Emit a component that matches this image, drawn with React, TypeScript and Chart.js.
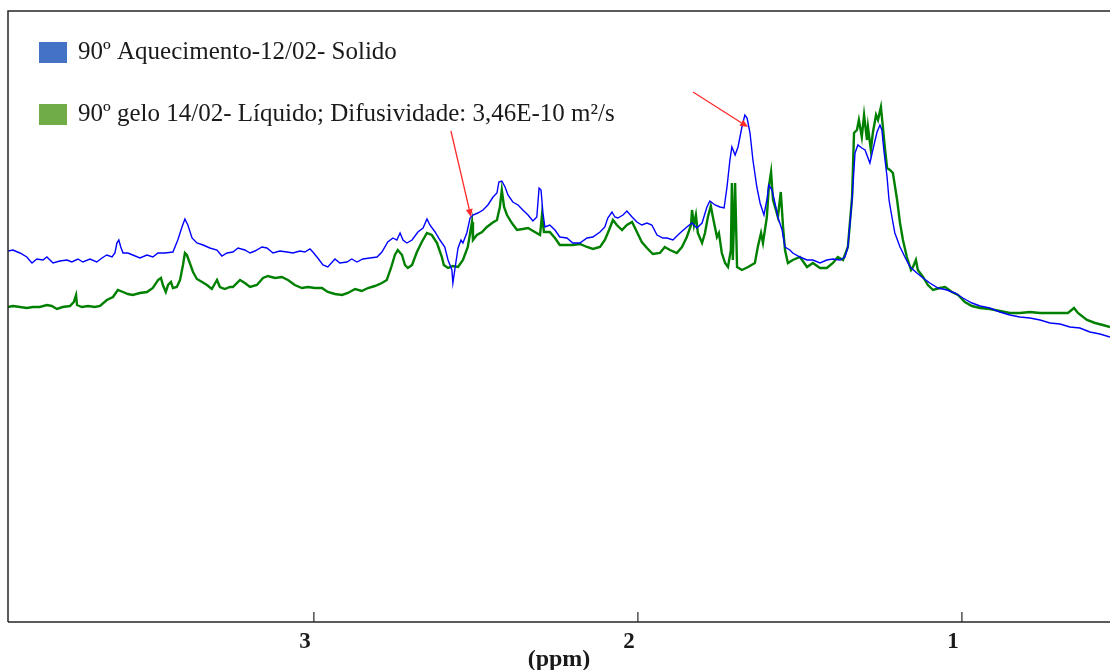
import React, { useEffect, useRef } from "react";
import { Chart, registerables } from "chart.js";

Chart.register(...registerables);

// ---- Data (ppm, intensity in arbitrary units) ----
const SERIES_LABELS = [
  "90º Aquecimento-12/02- Solido",
  "90º gelo 14/02- Líquido; Difusividade: 3,46E-10 m²/s",
];
const LINE_COLORS = ["#0000FF", "#008000"];
const LEGEND_COLORS = ["#4472C4", "#70AD47"];

const X_TICKS = [3, 2, 1];
const X_TITLE = "(ppm)";
const X_MIN = 0.543;
const X_MAX = 3.944;
const Y_MIN = 0;
const Y_MAX = 611;

const BLUE_PPM = [
  3.944, 3.929, 3.907, 3.886, 3.87, 3.855, 3.836, 3.824, 3.805, 3.784, 3.762, 3.747, 3.728, 3.713, 3.691, 3.67,
  3.654, 3.639, 3.623, 3.614, 3.608, 3.602, 3.596, 3.589, 3.574, 3.559, 3.537, 3.515, 3.497, 3.481, 3.46, 3.435,
  3.42, 3.407, 3.398, 3.389, 3.376, 3.361, 3.342, 3.321, 3.299, 3.284, 3.268, 3.25, 3.234, 3.213, 3.197, 3.182,
  3.16, 3.145, 3.126, 3.105, 3.083, 3.065, 3.043, 3.028, 3.012, 3.003, 2.988, 2.972, 2.957, 2.935, 2.92, 2.898,
  2.883, 2.867, 2.849, 2.827, 2.805, 2.79, 2.772, 2.756, 2.744, 2.734, 2.725, 2.713, 2.697, 2.679, 2.663, 2.651,
  2.642, 2.626, 2.611, 2.596, 2.586, 2.574, 2.571, 2.562, 2.555, 2.546, 2.54, 2.528, 2.518, 2.509, 2.494, 2.478,
  2.463, 2.447, 2.435, 2.429, 2.42, 2.41, 2.401, 2.386, 2.37, 2.355, 2.339, 2.324, 2.312, 2.305, 2.299, 2.293,
  2.287, 2.272, 2.256, 2.241, 2.219, 2.201, 2.179, 2.157, 2.139, 2.117, 2.102, 2.093, 2.08, 2.071, 2.062, 2.046,
  2.034, 2.018, 2.003, 1.988, 1.972, 1.957, 1.941, 1.923, 1.91, 1.892, 1.87, 1.849, 1.833, 1.818, 1.802, 1.787,
  1.778, 1.762, 1.747, 1.734, 1.725, 1.716, 1.71, 1.7, 1.691, 1.679, 1.67, 1.663, 1.654, 1.645, 1.633, 1.623,
  1.611, 1.602, 1.596, 1.586, 1.577, 1.568, 1.555, 1.546, 1.531, 1.522, 1.5, 1.478, 1.46, 1.438, 1.417, 1.398,
  1.376, 1.361, 1.352, 1.339, 1.33, 1.321, 1.309, 1.299, 1.284, 1.275, 1.262, 1.253, 1.247, 1.241, 1.231, 1.225,
  1.216, 1.207, 1.191, 1.176, 1.16, 1.139, 1.12, 1.099, 1.074, 1.046, 1.022, 0.997, 0.969, 0.944, 0.914, 0.883,
  0.852, 0.821, 0.79, 0.759, 0.728, 0.697, 0.667, 0.636, 0.605, 0.574, 0.543,
];
const BLUE_INT = [
  371, 372, 369, 365, 359, 363, 362, 365, 359, 361, 362, 360, 363, 360, 363, 360,
  364, 367, 365, 369, 379, 382, 375, 369, 369, 367, 364, 367, 365, 369, 369, 370,
  382, 395, 403, 397, 384, 379, 377, 374, 372, 366, 369, 370, 374, 372, 369, 371,
  375, 374, 369, 371, 370, 369, 371, 370, 373, 370, 364, 357, 355, 363, 359, 360,
  363, 360, 363, 364, 365, 370, 380, 384, 382, 389, 382, 379, 382, 390, 394, 403,
  397, 390, 382, 375, 362, 352, 339, 359, 374, 382, 379, 389, 404, 407, 409, 412,
  417, 425, 429, 440, 441, 435, 427, 420, 417, 412, 407, 401, 405, 434, 432, 409,
  395, 397, 392, 385, 384, 379, 379, 384, 385, 390, 395, 404, 410, 405, 404, 407,
  411, 405, 400, 397, 399, 397, 387, 384, 384, 382, 389, 395, 399, 394, 399, 415,
  421, 417, 415, 414, 435, 462, 475, 467, 475, 495, 507, 504, 489, 462, 435, 419,
  407, 422, 437, 432, 419, 405, 392, 375, 372, 369, 365, 362, 362, 359, 362, 363,
  362, 365, 375, 422, 469, 477, 474, 472, 459, 472, 490, 497, 492, 472, 445, 422,
  405, 389, 375, 365, 355, 349, 344, 339, 334, 332, 329, 324, 319, 316, 314, 310,
  307, 305, 304, 302, 299, 298, 295, 294, 290, 288, 285,
];

const GREEN_PPM = [
  3.944, 3.929, 3.907, 3.886, 3.867, 3.846, 3.824, 3.809, 3.793, 3.775, 3.753, 3.741, 3.734, 3.731, 3.716, 3.697,
  3.676, 3.66, 3.639, 3.62, 3.605, 3.589, 3.574, 3.559, 3.537, 3.515, 3.497, 3.481, 3.472, 3.466, 3.457, 3.45,
  3.441, 3.435, 3.423, 3.413, 3.404, 3.398, 3.392, 3.383, 3.373, 3.361, 3.345, 3.33, 3.315, 3.299, 3.29, 3.275,
  3.259, 3.25, 3.228, 3.213, 3.197, 3.176, 3.157, 3.142, 3.12, 3.099, 3.08, 3.059, 3.037, 3.018, 2.997, 2.975,
  2.957, 2.935, 2.913, 2.895, 2.873, 2.852, 2.833, 2.812, 2.79, 2.775, 2.762, 2.75, 2.741, 2.728, 2.719, 2.71,
  2.697, 2.682, 2.667, 2.651, 2.636, 2.62, 2.605, 2.599, 2.586, 2.571, 2.555, 2.54, 2.525, 2.512, 2.509, 2.497,
  2.481, 2.466, 2.45, 2.435, 2.426, 2.42, 2.413, 2.404, 2.389, 2.373, 2.355, 2.339, 2.318, 2.302, 2.296, 2.29,
  2.272, 2.256, 2.241, 2.219, 2.201, 2.179, 2.157, 2.139, 2.117, 2.102, 2.089, 2.077, 2.065, 2.049, 2.034, 2.018,
  2.003, 1.988, 1.972, 1.954, 1.932, 1.917, 1.901, 1.88, 1.864, 1.849, 1.836, 1.833, 1.827, 1.821, 1.815, 1.802,
  1.793, 1.784, 1.775, 1.768, 1.756, 1.75, 1.741, 1.731, 1.722, 1.713, 1.71, 1.707, 1.7, 1.694, 1.679, 1.66,
  1.639, 1.63, 1.62, 1.614, 1.602, 1.596, 1.589, 1.583, 1.574, 1.568, 1.559, 1.552, 1.546, 1.537, 1.522, 1.5,
  1.478, 1.46, 1.438, 1.417, 1.398, 1.383, 1.367, 1.352, 1.339, 1.333, 1.324, 1.318, 1.309, 1.302, 1.293, 1.29,
  1.281, 1.275, 1.265, 1.259, 1.25, 1.244, 1.238, 1.231, 1.222, 1.213, 1.2, 1.191, 1.182, 1.17, 1.157, 1.151,
  1.142, 1.136, 1.12, 1.105, 1.089, 1.068, 1.052, 1.031, 1.012, 0.991, 0.969, 0.944, 0.914, 0.883, 0.852, 0.821,
  0.79, 0.759, 0.728, 0.697, 0.673, 0.654, 0.642, 0.614, 0.589, 0.565, 0.543,
];
const GREEN_INT = [
  315, 316, 315, 314, 315, 315, 317, 316, 313, 315, 316, 320, 327, 317, 315, 316,
  315, 316, 322, 325, 332, 330, 328, 327, 329, 330, 334, 342, 344, 337, 330, 337,
  340, 334, 335, 342, 357, 369, 367, 359, 350, 343, 340, 337, 333, 342, 335, 333,
  335, 335, 342, 339, 335, 337, 344, 346, 344, 345, 342, 337, 334, 335, 334, 334,
  330, 328, 327, 329, 333, 331, 334, 336, 339, 342, 354, 367, 372, 367, 357, 354,
  357, 370, 380, 389, 387, 379, 365, 357, 354, 356, 355, 362, 375, 400, 382, 387,
  390, 395, 399, 402, 415, 432, 415, 407, 399, 392, 393, 394, 390, 387, 407, 390,
  390, 384, 377, 377, 377, 378, 375, 373, 375, 382, 392, 402, 397, 392, 397, 400,
  390, 380, 374, 368, 369, 375, 372, 369, 375, 385, 397, 412, 397, 407, 389, 379,
  389, 405, 416, 404, 385, 389, 369, 359, 355, 372, 439, 362, 439, 355, 352, 355,
  359, 375, 389, 379, 405, 435, 450, 422, 412, 405, 430, 395, 372, 359, 362, 365,
  355, 359, 354, 354, 359, 365, 362, 375, 425, 489, 492, 502, 485, 507, 482, 495,
  472, 489, 507, 502, 515, 495, 475, 454, 452, 449, 422, 399, 382, 365, 352, 355,
  362, 352, 345, 337, 332, 334, 335, 330, 327, 320, 316, 314, 313, 311, 309, 309,
  310, 309, 309, 309, 309, 314, 309, 302, 299, 297, 295,
];

// Annotation arrows: [tailPpm, tailInt, tipPpm, tipInt]
const ARROWS = [
  [2.577, 491, 2.515, 405],
  [1.83, 530, 1.66, 495],
];

const SERIF = "'Liberation Serif', 'Times New Roman', serif";

const overlayPlugin = {
  id: "overlay",
  afterDatasetsDraw(chart: any) {
    const { ctx, chartArea, scales } = chart;
    const { left, top, right, bottom } = chartArea;
    const x = scales.x;
    const y = scales.y;
    ctx.save();
    // frame
    ctx.strokeStyle = "#262626";
    ctx.lineWidth = 1.5;
    ctx.beginPath();
    ctx.moveTo(left, bottom);
    ctx.lineTo(left, top);
    ctx.lineTo(right, top);
    ctx.moveTo(left, bottom);
    ctx.lineTo(right, bottom);
    ctx.stroke();
    // inward tick marks
    ctx.lineWidth = 1.2;
    ctx.beginPath();
    for (const v of X_TICKS) {
      const px = x.getPixelForValue(v);
      ctx.moveTo(px, bottom);
      ctx.lineTo(px, bottom - 10);
    }
    ctx.stroke();
    // arrows
    ctx.strokeStyle = "#FF2A2A";
    ctx.fillStyle = "#FF2A2A";
    ctx.lineWidth = 1.3;
    for (const a of ARROWS) {
      const x1 = x.getPixelForValue(a[0]);
      const y1 = y.getPixelForValue(a[1]);
      const x2 = x.getPixelForValue(a[2]);
      const y2 = y.getPixelForValue(a[3]);
      const ang = Math.atan2(y2 - y1, x2 - x1);
      const hl = 8;
      const hw = 3.5;
      const bx = x2 - hl * Math.cos(ang);
      const by = y2 - hl * Math.sin(ang);
      ctx.beginPath();
      ctx.moveTo(x1, y1);
      ctx.lineTo(bx, by);
      ctx.stroke();
      ctx.beginPath();
      ctx.moveTo(x2, y2);
      ctx.lineTo(bx + hw * Math.sin(ang), by - hw * Math.cos(ang));
      ctx.lineTo(bx - hw * Math.sin(ang), by + hw * Math.cos(ang));
      ctx.closePath();
      ctx.fill();
    }
    // legend
    const rows = [52, 114];
    ctx.font = `25px ${SERIF}`;
    ctx.textBaseline = "alphabetic";
    ctx.textAlign = "left";
    SERIES_LABELS.forEach((label, i) => {
      const cy = rows[i];
      ctx.fillStyle = LEGEND_COLORS[i];
      ctx.fillRect(left + 31, cy - 10, 28, 21);
      ctx.fillStyle = "#1a1a1a";
      ctx.fillText(label, left + 70, cy + 7);
    });
    ctx.restore();
  },
};

export default function App() {
  const ref = useRef<HTMLCanvasElement | null>(null);
  useEffect(() => {
    if (!ref.current) return;
    const mk = (px: number[], iv: number[]) => px.map((p, i) => ({ x: p, y: iv[i] }));
    const chart = new Chart(ref.current, {
      type: "line",
      data: {
        datasets: [
          {
            label: SERIES_LABELS[0],
            data: mk(BLUE_PPM, BLUE_INT),
            borderColor: LINE_COLORS[0],
            borderWidth: 1.4,
            pointRadius: 0,
            tension: 0,
          },
          {
            label: SERIES_LABELS[1],
            data: mk(GREEN_PPM, GREEN_INT),
            borderColor: LINE_COLORS[1],
            borderWidth: 2.4,
            pointRadius: 0,
            tension: 0,
          },
        ],
      },
      options: {
        animation: false,
        responsive: false,
        maintainAspectRatio: false,
        devicePixelRatio: 1,
        layout: { padding: { left: 8, top: 11, right: 0, bottom: 0 } },
        plugins: {
          legend: { display: false },
          tooltip: { enabled: false },
          title: { display: false },
        },
        scales: {
          x: {
            type: "linear",
            reverse: true,
            min: X_MIN,
            max: X_MAX,
            afterBuildTicks: (s: any) => {
              s.ticks = X_TICKS.map((v) => ({ value: v }));
            },
            afterFit: (s: any) => {
              s.height = 48;
            },
            grid: { display: false, drawTicks: false },
            border: { display: false },
            ticks: {
              color: "#1a1a1a",
              font: { family: SERIF, size: 23, weight: "bold", lineHeight: 1 },
              padding: 9,
              labelOffset: -9,
              maxRotation: 0,
              autoSkip: false,
            },
            title: {
              display: true,
              text: X_TITLE,
              color: "#1a1a1a",
              font: { family: SERIF, size: 24, weight: "bold", lineHeight: 0.9 },
              padding: { top: 0, bottom: -1 },
            },
          },
          y: {
            type: "linear",
            display: false,
            min: Y_MIN,
            max: Y_MAX,
          },
        },
      },
      plugins: [overlayPlugin],
    });
    return () => chart.destroy();
  }, []);
  return (
    <div style={{ position: "fixed", left: 0, top: 0, width: 1110, height: 670, background: "#fff" }}>
      <canvas ref={ref} width={1110} height={670} style={{ width: 1110, height: 670, display: "block" }} />
    </div>
  );
}
